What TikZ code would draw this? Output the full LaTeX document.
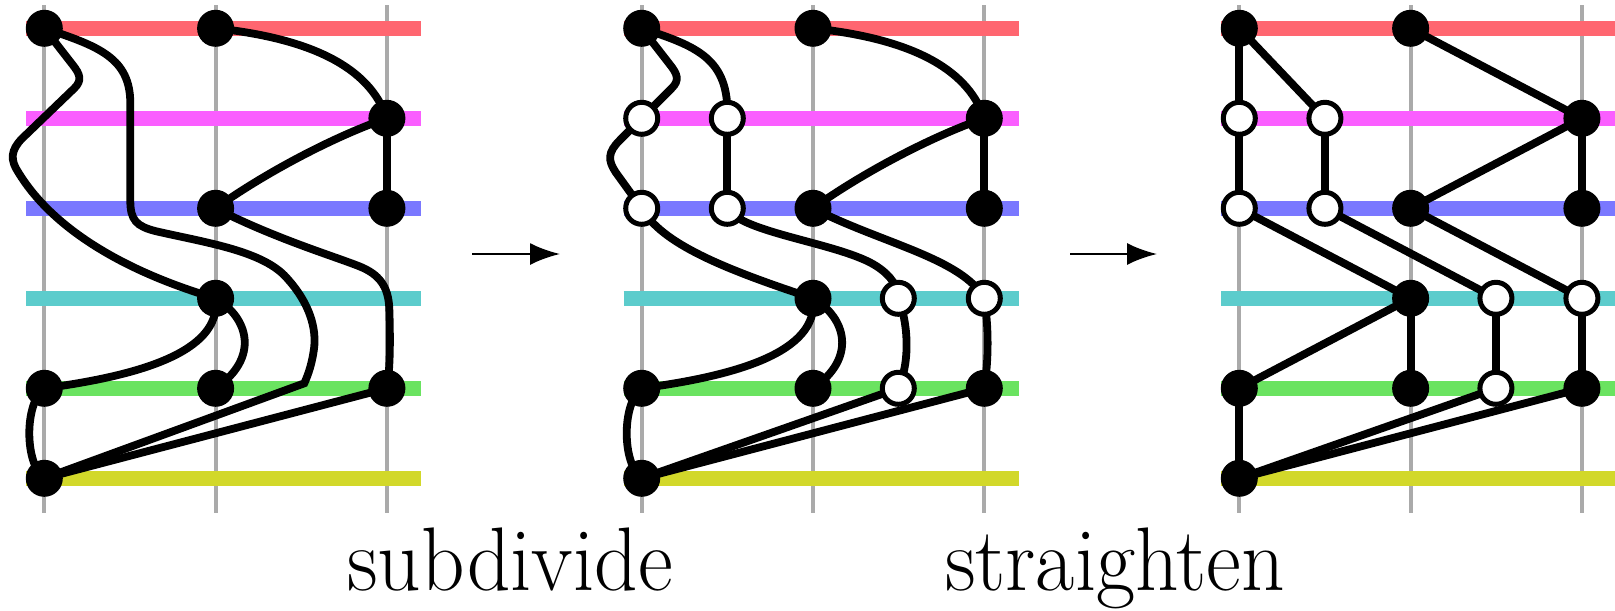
\documentclass[tikz,border=0pt]{standalone}
\usepackage{graphicx}
\usetikzlibrary{arrows.meta}
\pgfdeclarelayer{bg}
\pgfdeclarelayer{edges}
\pgfsetlayers{bg,edges,main}
\definecolor{lred}{RGB}{255,102,112}
\definecolor{lmag}{RGB}{250,94,255}
\definecolor{lblue}{RGB}{122,120,255}
\definecolor{lcyan}{RGB}{92,204,204}
\definecolor{lgreen}{RGB}{106,227,96}
\definecolor{lyellow}{RGB}{210,216,42}
\definecolor{gridgray}{RGB}{170,170,170}
\tikzset{
 vb/.style={circle,fill=black,inner sep=0pt,minimum size=18.5pt},
 vw/.style={circle,fill=white,draw=black,line width=2.5pt,inner sep=0pt,minimum size=16pt},
 edg/.style={line width=3.9pt,black},
 gridline/.style={line width=2pt,gridgray},
 level/.style={line width=7.5pt},
 flow/.style={line width=1.2pt,-{Latex[length=15pt,width=11pt]}},
 lbl/.style={font=\fontsize{42.6}{50}\selectfont, anchor=base, inner sep=0pt}
}
\newcommand{\panelbg}{%
 \begin{pgfonlayer}{bg}
 \foreach \cx in {0,171.3,342.6} \draw[gridline] (\cx,-23) -- (\cx,485);
 \foreach \ry/\lc in {0/lred,90/lmag,180/lblue,270/lcyan,360/lgreen,450/lyellow} \draw[level,\lc] (-18,\ry) -- (377,\ry);
 \end{pgfonlayer}}
\begin{document}
\begin{tikzpicture}[x=0.5pt,y=-0.5pt]
\useasboundingbox (0,0) rectangle (1615,610);
% ---------------- panel 1
\begin{scope}[xshift=22.15pt,yshift=-14.15pt]
\panelbg
\node[vb] (a00) at (0,0) {};
\node[vb] (a10) at (171.3,0) {};
\node[vb] (a21) at (342.6,90) {};
\node[vb] (a12) at (171.3,180) {};
\node[vb] (a22) at (342.6,180) {};
\node[vb] (a13) at (171.3,270) {};
\node[vb] (a04) at (0,360) {};
\node[vb] (a14) at (171.3,360) {};
\node[vb] (a24) at (342.6,360) {};
\node[vb] (a05) at (0,450) {};
\begin{pgfonlayer}{edges}
\draw[edg] (a00.center) -- (28,36) .. controls (36,46) and (38,52) .. (30,60) -- (-22,110) .. controls (-34,122) and (-34,132) .. (-26,144) .. controls (5,195) and (70,240) .. (a13.center);
\draw[edg] (a00.center) .. controls (55,18) and (86,30) .. (86,75) -- (86,172) .. controls (86,192) and (92,198) .. (112,203) .. controls (160,214) and (215,222) .. (240,247) .. controls (262,270) and (272,295) .. (270,318) .. controls (268,335) and (264,346) .. (260,355) -- (a05.center);
\draw[edg] (a10.center) .. controls (265,10) and (325,38) .. (a21.center);
\draw[edg] (a21.center) .. controls (290,108) and (220,145) .. (a12.center);
\draw[edg] (a21.center) -- (a22.center);
\draw[edg] (a12.center) .. controls (230,210) and (290,228) .. (315,238) .. controls (335,246) and (344,258) .. (345,280) .. controls (346,310) and (346,340) .. (a24.center);
\draw[edg] (a13.center) .. controls (178,325) and (90,348) .. (a04.center);
\draw[edg] (a13.center) .. controls (205,290) and (215,330) .. (a14.center);
\draw[edg] (a04.center) .. controls (-20,375) and (-20,435) .. (a05.center);
\draw[edg] (a24.center) -- (a05.center);
\end{pgfonlayer}
\end{scope}
% ---------------- panel 2
\begin{scope}[xshift=320.85pt,yshift=-14.15pt]
\panelbg
\node[vb] (b00) at (0,0) {};
\node[vb] (b10) at (171.3,0) {};
\node[vb] (b21) at (342.6,90) {};
\node[vb] (b12) at (171.3,180) {};
\node[vb] (b22) at (342.6,180) {};
\node[vb] (b13) at (171.3,270) {};
\node[vb] (b04) at (0,360) {};
\node[vb] (b14) at (171.3,360) {};
\node[vb] (b24) at (342.6,360) {};
\node[vb] (b05) at (0,450) {};
\node[vw] (b01) at (0,90) {};
\node[vw] (bh1) at (85.6,90) {};
\node[vw] (b02) at (0,180) {};
\node[vw] (bh2) at (85.6,180) {};
\node[vw] (bm3) at (256.6,270) {};
\node[vw] (b23) at (342.6,270) {};
\node[vw] (bm4) at (256.6,360) {};
\begin{pgfonlayer}{edges}
\draw[edg] (b00.center) -- (28,36) .. controls (36,46) and (38,52) .. (30,60) -- (b01.center);
\draw[edg] (b01.center) -- (-22,112) .. controls (-34,124) and (-34,132) .. (-26,144) -- (b02.center);
\draw[edg] (b02.center) .. controls (20,215) and (80,240) .. (b13.center);
\draw[edg] (b00.center) .. controls (55,18) and (88,30) .. (bh1.center);
\draw[edg] (bh1.center) -- (bh2.center);
\draw[edg] (bh2.center) .. controls (100,205) and (200,215) .. (235,238) .. controls (250,248) and (256,258) .. (bm3.center);
\draw[edg] (bm3.center) .. controls (265,290) and (270,330) .. (bm4.center);
\draw[edg] (bm4.center) -- (b05.center);
\draw[edg] (b10.center) .. controls (265,10) and (325,38) .. (b21.center);
\draw[edg] (b21.center) .. controls (290,108) and (220,145) .. (b12.center);
\draw[edg] (b21.center) -- (b22.center);
\draw[edg] (b12.center) .. controls (240,215) and (320,230) .. (b23.center);
\draw[edg] (b23.center) .. controls (347,300) and (347,330) .. (b24.center);
\draw[edg] (b13.center) .. controls (178,325) and (90,348) .. (b04.center);
\draw[edg] (b13.center) .. controls (205,290) and (215,330) .. (b14.center);
\draw[edg] (b04.center) .. controls (-20,375) and (-20,435) .. (b05.center);
\draw[edg] (b24.center) -- (b05.center);
\end{pgfonlayer}
\end{scope}
% ---------------- panel 3
\begin{scope}[xshift=619.65pt,yshift=-14.15pt]
\panelbg
\node[vb] (c00) at (0,0) {};
\node[vb] (c10) at (171.3,0) {};
\node[vb] (c21) at (342.6,90) {};
\node[vb] (c12) at (171.3,180) {};
\node[vb] (c22) at (342.6,180) {};
\node[vb] (c13) at (171.3,270) {};
\node[vb] (c04) at (0,360) {};
\node[vb] (c14) at (171.3,360) {};
\node[vb] (c24) at (342.6,360) {};
\node[vb] (c05) at (0,450) {};
\node[vw] (c01) at (0,90) {};
\node[vw] (ch1) at (85.6,90) {};
\node[vw] (c02) at (0,180) {};
\node[vw] (ch2) at (85.6,180) {};
\node[vw] (cm3) at (256.6,270) {};
\node[vw] (c23) at (342.6,270) {};
\node[vw] (cm4) at (256.6,360) {};
\begin{pgfonlayer}{edges}
\draw[edg] (c00.center) -- (c01.center);
\draw[edg] (c00.center) -- (ch1.center);
\draw[edg] (c10.center) -- (c21.center);
\draw[edg] (c01.center) -- (c02.center);
\draw[edg] (ch1.center) -- (ch2.center);
\draw[edg] (c21.center) -- (c12.center);
\draw[edg] (c21.center) -- (c22.center);
\draw[edg] (c02.center) -- (c13.center);
\draw[edg] (ch2.center) -- (cm3.center);
\draw[edg] (c12.center) -- (c23.center);
\draw[edg] (c13.center) -- (c04.center);
\draw[edg] (c13.center) -- (c14.center);
\draw[edg] (cm3.center) -- (cm4.center);
\draw[edg] (c23.center) -- (c24.center);
\draw[edg] (c04.center) -- (c05.center);
\draw[edg] (cm4.center) -- (c05.center);
\draw[edg] (c24.center) -- (c05.center);
\end{pgfonlayer}
\end{scope}
% ---------------- arrows and labels
\coordinate (ar1s) at (472,254);
\coordinate (ar1e) at (560,254);
\coordinate (ar2s) at (1070,254);
\coordinate (ar2e) at (1157,254);
\draw[flow] (ar1s) -- (ar1e);
\draw[flow] (ar2s) -- (ar2e);
\node[lbl] (t1) at (510,590) {\scalebox{1}[1.06]{subdivide}};
\node[lbl] (t2) at (1115,590) {\scalebox{1}[1.06]{straighten}};
\end{tikzpicture}
\end{document}
